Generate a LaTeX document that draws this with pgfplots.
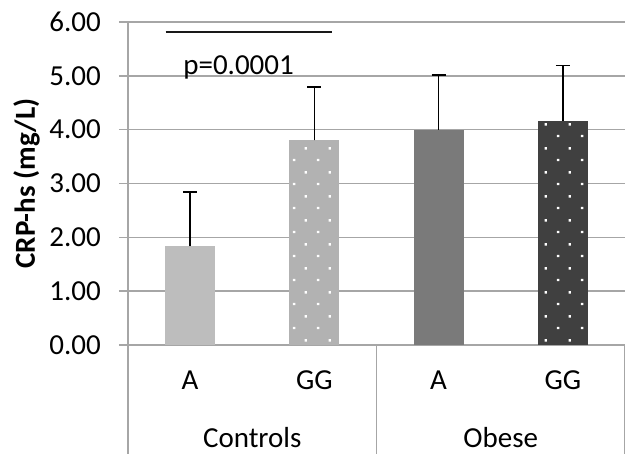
\documentclass[border=0pt]{standalone}
\usepackage{pgfplots}
\pgfplotsset{compat=1.18}
\usetikzlibrary{patterns.meta}
\usepackage{fontspec}
\setmainfont{Carlito}
\definecolor{grd}{HTML}{A6A6A6}
\definecolor{cA}{HTML}{BDBDBD}
\definecolor{cB}{HTML}{B2B2B2}
\definecolor{cC}{HTML}{7A7A7A}
\definecolor{cD}{HTML}{404040}
\tikzdeclarepattern{
  name=wdots, type=uncolored,
  bottom left={(0pt,0pt)}, top right={(24pt,24pt)}, tile size={(24pt,24pt)},
  code={\fill (5pt,5pt) rectangle (7.5pt,7.5pt); \fill (17pt,17pt) rectangle (19.5pt,19.5pt);}
}
\newcommand{\lbl}{\fontsize{29}{34}\selectfont}
\begin{document}
\begin{tikzpicture}
\useasboundingbox (0,0) rectangle (625pt,454pt);
\begin{axis}[
  at={(128pt,109pt)}, anchor=south west,
  scale only axis, width=497pt, height=323pt,
  xmin=-0.5, xmax=3.5, ymin=0, ymax=6,
  axis x line=bottom, axis y line=left,
  axis line style={grd, line width=1.5pt, -},
  ytick={0,1,2,3,4,5,6},
  ymajorgrids, grid style={grd, line width=1.5pt},
  y tick style={grd, line width=1.5pt},
  major tick length=9pt, tick align=outside,
  /pgf/number format/assume math mode=true,
  yticklabel style={font=\lbl, inner sep=0pt, anchor=east, xshift=-18pt, /pgf/number format/.cd, fixed, fixed zerofill, precision=2},
  xtick={0,1,2,3}, xticklabels={A,GG,A,GG},
  x tick style={draw=none},
  xticklabel style={font=\lbl, inner sep=0pt, anchor=base, yshift=-36pt},
  clip=false,
  ybar, bar width=50pt, bar shift=0pt,
  error bars/error bar style={black, line width=1.6pt},
  error bars/error mark options={black, line width=1.6pt, mark size=7pt, rotate=90},
]
\addplot[fill=cA, draw=none, error bars/.cd, y dir=plus, y explicit]
  coordinates {(0,1.83) +- (0,1.01)};
\addplot[fill=cB, draw=none, error bars/.cd, y dir=plus, y explicit]
  coordinates {(1,3.80) +- (0,0.99)};
\addplot[draw=none, pattern=wdots, pattern color=white]
  coordinates {(1,3.80)};
\addplot[fill=cC, draw=none, error bars/.cd, y dir=plus, y explicit]
  coordinates {(2,4.00) +- (0,1.01)};
\addplot[fill=cD, draw=none, error bars/.cd, y dir=plus, y explicit]
  coordinates {(3,4.17) +- (0,1.02)};
\addplot[draw=none, pattern=wdots, pattern color=white]
  coordinates {(3,4.17)};
\draw[grd, line width=1.5pt] (axis cs:-0.5,0) -- ++(0pt,-109pt);
\draw[grd, line width=1.5pt] (axis cs:1.5,0) -- ++(0pt,-109pt);
\draw[grd, line width=1.5pt] (axis cs:3.5,0) -- ++(0pt,-109pt);
\node[font=\lbl, anchor=base, inner sep=0pt] at (axis cs:0.5,0) [yshift=-103pt] {Controls};
\node[font=\lbl, anchor=base, inner sep=0pt] at (axis cs:2.5,0) [yshift=-103pt] {Obese};
\draw[black!90, line width=1.8pt] (axis cs:-0.197,5.81) -- (axis cs:1.139,5.81);
\node[font=\lbl, anchor=base, inner sep=0pt] at (axis cs:0.39,5.02) {p=0.0001};
\node[font=\lbl\bfseries, xshift=-101.5pt, rotate=90] at (axis cs:-0.5,3.0) {CRP-hs (mg/L)};
\end{axis}
\end{tikzpicture}
\end{document}
